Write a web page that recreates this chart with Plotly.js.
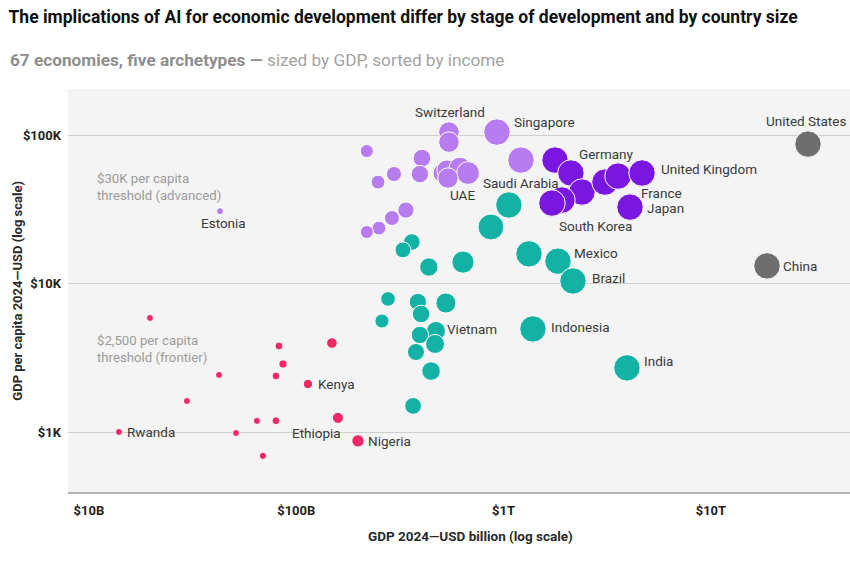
<!DOCTYPE html>
<html>
<head>
<meta charset="utf-8">
<script src="https://cdn.plot.ly/plotly-3.0.1.min.js"></script>
<style>
  html, body { margin: 0; padding: 0; background: #ffffff; overflow: hidden; }
  #chart { width: 850px; height: 566px; }
</style>
</head>
<body>
<div id="chart"></div>
<script>
// GDP 2024 (USD billion) and GDP per capita 2024 (USD), one set of arrays per archetype.
// Only the economies that carry a label are named.

// Frontier economies
const frontierNames = ['', '', '', '', '', '', 'Kenya', '', '', '', 'Ethiopia', 'Rwanda', '', 'Nigeria', ''];
const frontierGdp   = [19.7, 82.5, 148.6, 86.3, 42.4, 79.8, 113.8, 29.7, 64.6, 79.8, 158.9, 13.95, 51.2, 198.5, 69.0];
const frontierGdpPc = [5890, 3820, 4000, 2890, 2440, 2400, 2120, 1630, 1197, 1200, 1254, 1009, 993, 878, 697];

// Emerging economies
const emergingNames = ['', '', '', '', '', 'Saudi Arabia', '', '', '', '', '', 'Vietnam', '', '', '', '', '',
                       '', 'Mexico', 'Brazil', 'Indonesia', 'India'];
const emergingGdp   = [361, 327, 436, 637, 869, 1061, 277, 386, 527, 400, 259, 472, 395, 467, 378, 447, 366,
                       1326, 1830, 2162, 1386, 3937];
const emergingGdpPc = [19100, 16900, 12970, 14000, 24100, 33900, 7910, 7550, 7430, 6270, 5620, 4820, 4530, 3940,
                       3480, 2590, 1510, 15900, 14200, 10450, 4970, 2720];

// Smaller advanced economies
const smallAdvNames = ['Switzerland', '', 'Singapore', '', '', '', '', '', '', '', '', '', '', 'UAE',
                       '', '', '', '', 'Estonia'];
const smallAdvGdp   = [545, 545, 929, 219, 404, 1213, 296, 248, 395, 510, 533, 616, 674, 539,
                       338, 289.5, 250.6, 219, 42.9];
const smallAdvGdpPc = [104800, 89700, 104800, 78100, 70000, 67900, 54700, 48300, 54700, 55600, 58200, 60000,
                       55600, 51400, 31300, 27700, 23700, 22300, 30800];

// Large advanced economies
const largeAdvNames = ['Germany', '', '', '', 'South Korea', 'France', '', 'United Kingdom', 'Japan'];
const largeAdvGdp   = [1771, 2113, 2388, 1913, 1712, 3083, 3565, 4655, 4072];
const largeAdvGdpPc = [67900, 55600, 41400, 36600, 34900, 48300, 53000, 55600, 32800];

// AI superpowers
const superNames = ['United States', 'China'];
const superGdp   = [29400, 18650];
const superGdpPc = [87000, 13200];

// Income thresholds (USD per capita)
const advancedThreshold = 30000;
const frontierThreshold = 2500;

// Axis ticks
const xTickVals  = [10, 100, 1000, 10000];
const xTickText  = ['$10B', '$100B', '$1T', '$10T'];
const yTickVals  = [1000, 10000, 100000];
const yTickText  = ['$1K', '$10K', '$100K'];

const FONT = 'Roboto, "Open Sans", "Liberation Sans", sans-serif';

// Bubble diameter grows with the square root of GDP, clamped to a readable range
function bubbleSize(gdp) {
  return gdp.map(g => Math.min(26.5, Math.max(7, 0.88 * Math.sqrt(g))));
}

function group(names, gdp, pc, color) {
  return {
    type: 'scatter',
    mode: 'markers',
    x: gdp,
    y: pc,
    text: names,
    hoverinfo: 'text+x+y',
    marker: {
      color: color,
      size: bubbleSize(gdp),
      sizemode: 'diameter',
      opacity: 1,
      line: { color: '#ffffff', width: 1 }
    },
    showlegend: false
  };
}

const traces = [
  group(frontierNames, frontierGdp, frontierGdpPc, '#ec2865'),
  group(emergingNames, emergingGdp, emergingGdpPc, '#14b2a4'),
  group(smallAdvNames, smallAdvGdp, smallAdvGdpPc, '#b67cf0'),
  group(largeAdvNames, largeAdvGdp, largeAdvGdpPc, '#7916e0'),
  group(superNames, superGdp, superGdpPc, '#6e6e6e')
];

// Where each country label sits relative to its bubble
const labelPlacement = {
  'Switzerland':    { anchor: 'center', dx: 1,   dy: 20 },
  'Singapore':      { anchor: 'left',   dx: 16,  dy: 10 },
  'United States':  { anchor: 'center', dx: -2,  dy: 23 },
  'Germany':        { anchor: 'left',   dx: 23,  dy: 6 },
  'United Kingdom': { anchor: 'left',   dx: 18,  dy: 4 },
  'Saudi Arabia':   { anchor: 'center', dx: 12,  dy: 22 },
  'UAE':            { anchor: 'center', dx: 15,  dy: -17 },
  'France':         { anchor: 'left',   dx: 35,  dy: -11 },
  'Japan':          { anchor: 'left',   dx: 16,  dy: -1 },
  'Estonia':        { anchor: 'center', dx: 3,   dy: -12 },
  'South Korea':    { anchor: 'left',   dx: 6,   dy: -23 },
  'Mexico':         { anchor: 'left',   dx: 15,  dy: 8 },
  'China':          { anchor: 'left',   dx: 15,  dy: 0 },
  'Brazil':         { anchor: 'left',   dx: 18,  dy: 3 },
  'Vietnam':        { anchor: 'left',   dx: 10,  dy: 2 },
  'Indonesia':      { anchor: 'left',   dx: 17,  dy: 2 },
  'India':          { anchor: 'left',   dx: 16,  dy: 7 },
  'Kenya':          { anchor: 'left',   dx: 9,   dy: 0 },
  'Rwanda':         { anchor: 'left',   dx: 7,   dy: 0 },
  'Ethiopia':       { anchor: 'center', dx: -21, dy: -15 },
  'Nigeria':        { anchor: 'left',   dx: 9,   dy: 0 }
};

const annotations = [];
[[frontierNames, frontierGdp, frontierGdpPc],
 [emergingNames, emergingGdp, emergingGdpPc],
 [smallAdvNames, smallAdvGdp, smallAdvGdpPc],
 [largeAdvNames, largeAdvGdp, largeAdvGdpPc],
 [superNames, superGdp, superGdpPc]].forEach(([names, gdp, pc]) => {
  names.forEach((name, i) => {
    if (!name) return;
    const p = labelPlacement[name];
    annotations.push({
      x: Math.log10(gdp[i]), y: Math.log10(pc[i]), xref: 'x', yref: 'y',
      text: name, showarrow: false, borderpad: 0,
      xanchor: p.anchor, yanchor: 'middle',
      xshift: p.dx, yshift: p.dy,
      font: { family: FONT, size: 13.5, color: '#3a3a3a' }
    });
  });
});

// Threshold notes
annotations.push({
  xref: 'paper', yref: 'y', x: 0.035, y: Math.log10(advancedThreshold),
  xanchor: 'left', yanchor: 'bottom', yshift: 8, align: 'left', showarrow: false,
  text: '$30K per capita<br>threshold (advanced)',
  font: { family: FONT, size: 13.2, color: '#9b9b9b' }
});
annotations.push({
  xref: 'paper', yref: 'y', x: 0.035, y: Math.log10(frontierThreshold),
  xanchor: 'left', yanchor: 'bottom', yshift: 6, align: 'left', showarrow: false,
  text: '$2,500 per capita<br>threshold (frontier)',
  font: { family: FONT, size: 13.2, color: '#9b9b9b' }
});

// Subtitle
annotations.push({
  xref: 'paper', yref: 'paper', x: -0.077, y: 1.072, xanchor: 'left', yanchor: 'middle',
  showarrow: false, align: 'left',
  text: '<b><span style="color:#8e8e8e">67 economies, five archetypes —</span></b>' +
        '<span style="color:#a2a2a2"> sized by GDP, sorted by income</span>',
  font: { family: FONT, size: 17.2, color: '#8e8e8e' }
});

// Axis titles
annotations.push({
  xref: 'paper', yref: 'paper', x: 0.515, y: -0.11, xanchor: 'center', yanchor: 'middle',
  showarrow: false, text: '<b>GDP 2024—USD billion (log scale)</b>',
  font: { family: FONT, size: 13.5, color: '#2a2a2a' }
});
annotations.push({
  xref: 'paper', yref: 'paper', x: -0.065, y: 0.5, xanchor: 'center', yanchor: 'middle',
  showarrow: false, textangle: -90, text: '<b>GDP per capita 2024—USD (log scale)</b>',
  font: { family: FONT, size: 13, color: '#2a2a2a' }
});

const yTop = 5.31, yBottom = 2.6;

const shapes = [
  // advanced band shading
  { type: 'rect', xref: 'paper', yref: 'y', x0: 0, x1: 1,
    y0: Math.log10(advancedThreshold), y1: yTop,
    fillcolor: '#e6e6e6', line: { width: 0 }, layer: 'below' },
  // threshold lines
  { type: 'line', xref: 'paper', yref: 'y', x0: 0, x1: 1,
    y0: Math.log10(advancedThreshold), y1: Math.log10(advancedThreshold),
    line: { color: 'rgba(160,160,160,0.75)', width: 1.3, dash: '6px,5px' }, layer: 'above' },
  { type: 'line', xref: 'paper', yref: 'y', x0: 0, x1: 1,
    y0: Math.log10(frontierThreshold), y1: Math.log10(frontierThreshold),
    line: { color: 'rgba(160,160,160,0.75)', width: 1.3, dash: '6px,5px' }, layer: 'above' }
];

const layout = {
  width: 850, height: 566,
  margin: { l: 68, r: 0, t: 89, b: 74 },
  paper_bgcolor: '#ffffff',
  plot_bgcolor: '#f4f4f4',
  font: { family: FONT, color: '#2a2a2a' },
  title: {
    text: '<b>The implications of AI for economic development differ by stage of development and by country size</b>',
    xref: 'container', yref: 'container', x: 0.01, y: 0.97, xanchor: 'left', yanchor: 'middle',
    font: { family: FONT, size: 17.5, color: '#111111' }
  },
  xaxis: {
    type: 'log',
    range: [0.899, 4.671],
    tickvals: xTickVals, ticktext: xTickText,
    tickfont: { family: FONT, size: 13, color: '#222222', weight: 'bold' },
    showgrid: false, zeroline: false,
    showline: true, linecolor: '#b4b4b4', linewidth: 2,
    ticks: '', ticklabelstandoff: 5
  },
  yaxis: {
    type: 'log',
    range: [yBottom, yTop],
    tickvals: yTickVals, ticktext: yTickText,
    tickfont: { family: FONT, size: 13, color: '#222222', weight: 'bold' },
    showgrid: true, gridcolor: '#cfcfcf', gridwidth: 1,
    zeroline: false, showline: false, ticks: '', ticklabelstandoff: 6
  },
  shapes: shapes,
  annotations: annotations,
  hovermode: 'closest'
};

Plotly.newPlot('chart', traces, layout, { displayModeBar: false, staticPlot: true });
</script>
</body>
</html>
